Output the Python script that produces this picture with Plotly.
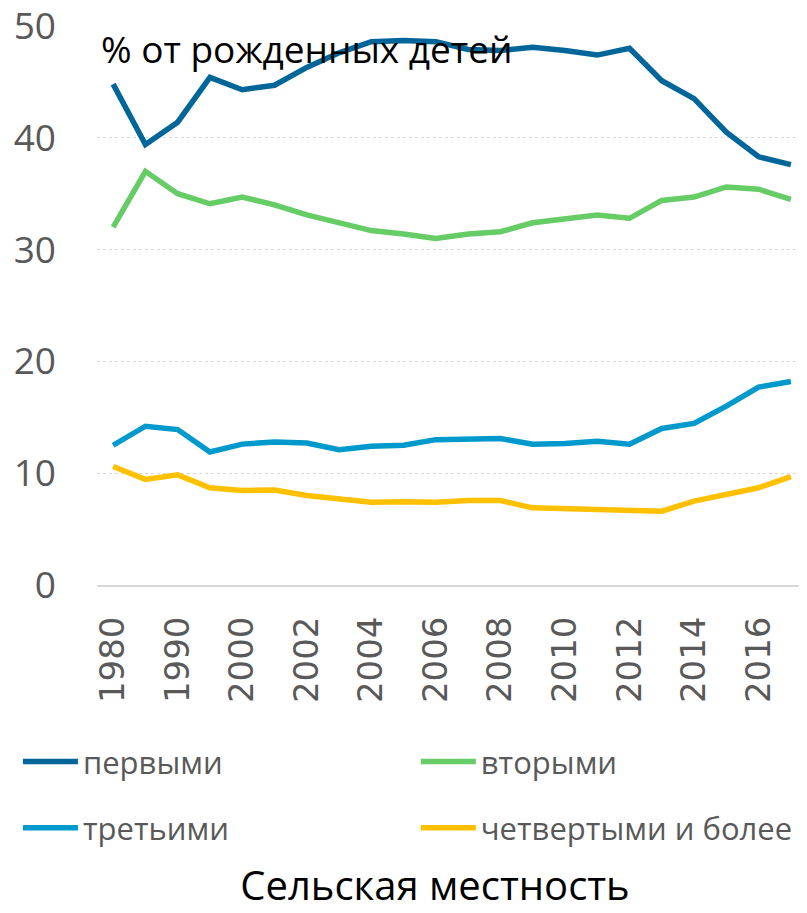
import plotly.graph_objects as go

# Years on the category axis (1980-1995 every 5 years, then annual)
years = ["1980", "1985", "1990", "1995", "2000", "2001", "2002", "2003", "2004",
         "2005", "2006", "2007", "2008", "2009", "2010", "2011", "2012", "2013",
         "2014", "2015", "2016", "2017"]

# % of births by birth order, rural areas
first = [44.8, 39.4, 41.4, 45.4, 44.3, 44.7, 46.3, 47.6, 48.6, 48.7, 48.6, 47.9,
         47.8, 48.1, 47.8, 47.4, 48.0, 45.1, 43.5, 40.5, 38.3, 37.6]
second = [32.0, 37.0, 35.0, 34.1, 34.7, 34.0, 33.1, 32.4, 31.7, 31.4, 31.0, 31.4,
          31.6, 32.4, 32.8, 33.1, 32.8, 34.4, 34.7, 35.6, 35.4, 34.5]
third = [12.5, 14.2, 13.9, 11.9, 12.6, 12.8, 12.7, 12.1, 12.4, 12.5, 13.0, 13.1,
         13.1, 12.6, 12.65, 12.85, 12.6, 14.0, 14.45, 16.0, 17.7, 18.2]
fourth = [10.6, 9.45, 9.85, 8.7, 8.45, 8.5, 8.0, 7.75, 7.4, 7.45, 7.4, 7.55,
          7.55, 6.9, 6.8, 6.8, 6.65, 6.6, 7.5, 8.05, 8.7, 9.7]

series = [
    ("первыми", first, "#006699", "legend"),
    ("вторыми", second, "#66CC66", "legend2"),
    ("третьими", third, "#0099CC", "legend3"),
    ("четвертыми и более", fourth, "#FFC000", "legend4"),
]

GRAY = "#595959"

fig = go.Figure()
for name, vals, color, leg in series:
    fig.add_trace(go.Scatter(
        x=years, y=vals, mode="lines", name=name,
        line=dict(color=color, width=5.5),
        legend=leg,
    ))

legend_style = dict(
    orientation="h",
    xref="container", yref="container",
    xanchor="left",
    yanchor="middle",
    font=dict(family="Open Sans", size=31, color=GRAY),
    itemwidth=55,
    bgcolor="rgba(0,0,0,0)",
)

# two columns x two rows, one legend box per entry
col1, col2 = 0.0125, 0.5104
row1, row2 = 0.1669, 0.0939

# the page body adds an 8px margin, so the figure is 8px smaller than the window
fig.update_layout(
    width=799,
    height=905,
    margin=dict(l=89, r=0, t=18, b=328, autoexpand=False),
    paper_bgcolor="white",
    plot_bgcolor="white",
    font=dict(family="Open Sans", color=GRAY),
    showlegend=True,
    legend=dict(legend_style, x=col1, y=row1),
    legend2=dict(legend_style, x=col2, y=row1),
    legend3=dict(legend_style, x=col1, y=row2),
    legend4=dict(legend_style, x=col2, y=row2),
    title=dict(
        text="Сельская местность",
        font=dict(family="Open Sans", size=40, color="black"),
        x=0.5344, xanchor="center",
        y=0.0298, yanchor="middle",
    ),
)

fig.update_xaxes(
    type="category",
    range=[-0.5, len(years) - 0.5],
    tickmode="array",
    tickvals=years[:5:2] + years[6::2],
    tickangle=-90,
    tickfont=dict(family="DejaVu Sans", size=34, color=GRAY),
    ticklabelstandoff=16,
    showgrid=False,
    showline=True,
    linecolor="#D9D9D9",
    linewidth=2,
    ticks="",
)

fig.update_yaxes(
    range=[0, 50],
    dtick=10,
    tickfont=dict(family="Open Sans", size=37, color=GRAY),
    ticklabelstandoff=40,
    ticklabeloverflow="allow",
    showgrid=True,
    gridcolor="#D9D9D9",
    griddash="dot",
    gridwidth=1,
    zeroline=False,
    ticks="",
)

fig.add_annotation(
    text="% от рожденных детей",
    xref="paper", yref="y",
    x=0.0033, y=48.0,
    xanchor="left", yanchor="middle",
    showarrow=False,
    font=dict(family="Open Sans", size=37, color="black"),
)

fig.write_html("out.html")
